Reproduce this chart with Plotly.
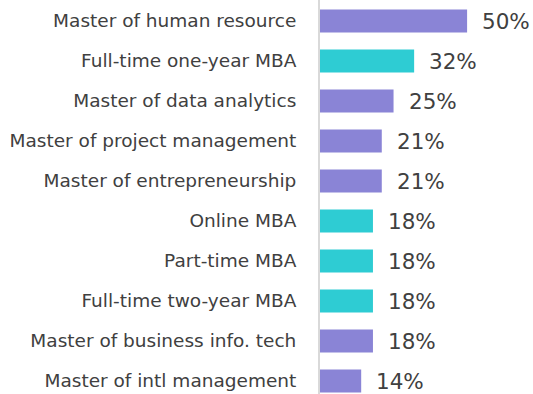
import plotly.graph_objects as go

# programs, top to bottom
programs = ["Master of human resource", "Full-time one-year MBA", "Master of data analytics",
            "Master of project management", "Master of entrepreneurship", "Online MBA",
            "Part-time MBA", "Full-time two-year MBA", "Master of business info. tech",
            "Master of intl management"]
share = [50, 32, 25, 21, 21, 18, 18, 18, 18, 14]
is_mba = [False, True, False, False, False, True, True, True, False, False]

purple = "#8A84D6"
teal = "#2ECCD3"
colors = [teal if m else purple for m in is_mba]

fig = go.Figure()
fig.add_trace(go.Bar(x=share, y=programs, orientation="h",
                     marker=dict(color=colors, line=dict(width=0)),
                     width=0.58, hoverinfo="skip"))

# value labels to the right of each bar
for p, v in zip(programs, share):
    fig.add_annotation(x=v, y=p, text=f"{v}%", showarrow=False, xanchor="left",
                       xshift=13, font=dict(size=21.5, color="#404040"))

fig.update_layout(
    width=533, height=394,
    margin=dict(l=320, r=0, t=0, b=0),
    plot_bgcolor="white", paper_bgcolor="white",
    font=dict(family="DejaVu Sans", color="#404040"),
    showlegend=False,
    xaxis=dict(range=[0, 72.4], visible=False),
    yaxis=dict(range=[9.325, -0.525], showline=True, linecolor="#D9D9D9", linewidth=2,
               showgrid=False, ticks="", ticklabelstandoff=18,
               tickfont=dict(size=18.5, color="#404040")),
)

# drop the default page margin so the chart sits at the window's corner
fig.write_html("out.html", config={"displayModeBar": False},
               post_script="document.body.style.margin='0';")
